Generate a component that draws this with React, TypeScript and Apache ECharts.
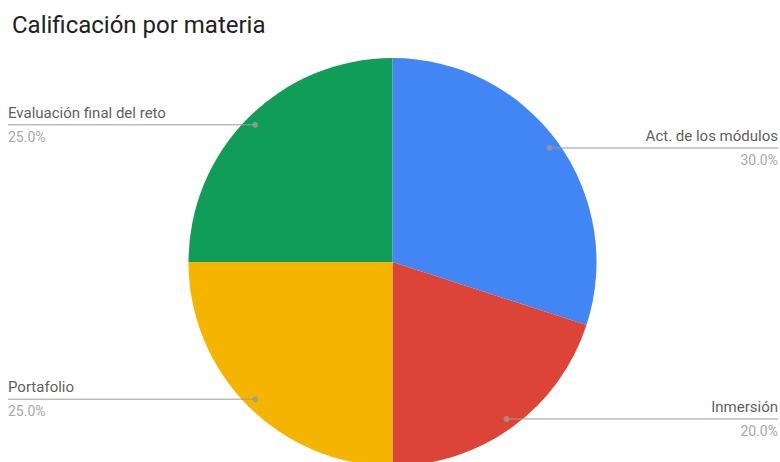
import React, { useEffect, useRef } from "react";
import * as echarts from "echarts";

const categories = ["Act. de los módulos", "Inmersión", "Portafolio", "Evaluación final del reto"];
const values = [30, 20, 25, 25];
const colors = ["#4285F4", "#DB4437", "#F4B400", "#0F9D58"];
const titleText = "Calificación por materia";

const CX = 392.5;
const CY = 262;
const R = 204;
const R_DOT = 194;

export default function App() {
  const ref = useRef<HTMLDivElement>(null);
  useEffect(() => {
    if (!ref.current) return;
    const chart = echarts.init(ref.current, undefined, { renderer: "svg" });
    const total = values.reduce((a, b) => a + b, 0);
    let cum = 0;
    const dots = values.map((v) => {
      const mid = cum + v / 2;
      cum += v;
      return [1, (mid / total) * 100];
    });
    const data = categories.map((name, i) => ({ name, value: values[i], itemStyle: { color: colors[i] } }));
    chart.setOption({
      animation: false,
      backgroundColor: "#ffffff",
      title: {
        text: titleText,
        left: 7,
        top: 8,
        textStyle: { fontFamily: "Roboto", fontSize: 24, fontWeight: "normal", color: "#212121" },
      },
      polar: { center: [CX, CY], radius: R_DOT },
      angleAxis: { type: "value", min: 0, max: 100, startAngle: 90, clockwise: true, show: false },
      radiusAxis: { type: "value", min: 0, max: 1, show: false },
      series: [
        {
          type: "pie",
          center: [CX, CY],
          radius: R,
          startAngle: 90,
          clockwise: true,
          silent: true,
          label: { show: false },
          labelLine: { show: false },
          itemStyle: { borderWidth: 0 },
          data,
          z: 1,
        },
        {
          type: "pie",
          center: [CX, CY],
          radius: R_DOT,
          startAngle: 90,
          clockwise: true,
          silent: true,
          z: 3,
          itemStyle: { color: "transparent", borderWidth: 0 },
          data: categories.map((name, i) => ({ name, value: values[i] })),
          label: {
            show: true,
            position: "outside",
            fontFamily: "Roboto",
            formatter: (p: any) => `{n|${p.name}}\n{p|${p.percent.toFixed(1)}%}`,
            rich: {
              n: { fontFamily: "Roboto", fontSize: 15, color: "#5f5f5f", lineHeight: 24 },
              p: { fontFamily: "Roboto", fontSize: 14, color: "#a8a8a8", lineHeight: 24 },
            },
          },
          labelLine: { show: true, length: 0, length2: 10, lineStyle: { color: "#9a9a9a", width: 1 } },
          labelLayout: (params: any) => {
            const pts = params.labelLinePoints;
            if (!pts) return {};
            const start = pts[0];
            const isLeft = start[0] < CX;
            const edgeX = isLeft ? 8 : 778;
            return {
              x: edgeX,
              y: start[1],
              align: isLeft ? "left" : "right",
              verticalAlign: "middle",
              labelLinePoints: [start, [edgeX, start[1]]],
            };
          },
        },
        {
          type: "scatter",
          coordinateSystem: "polar",
          symbol: "circle",
          symbolSize: 6,
          silent: true,
          z: 4,
          itemStyle: { color: "#9a9a9a" },
          data: dots,
        },
      ],
    });
    return () => chart.dispose();
  }, []);
  return (
    <div
      ref={ref}
      style={{ position: "fixed", left: 0, top: 0, width: 780, height: 462, background: "#fff" }}
    />
  );
}
